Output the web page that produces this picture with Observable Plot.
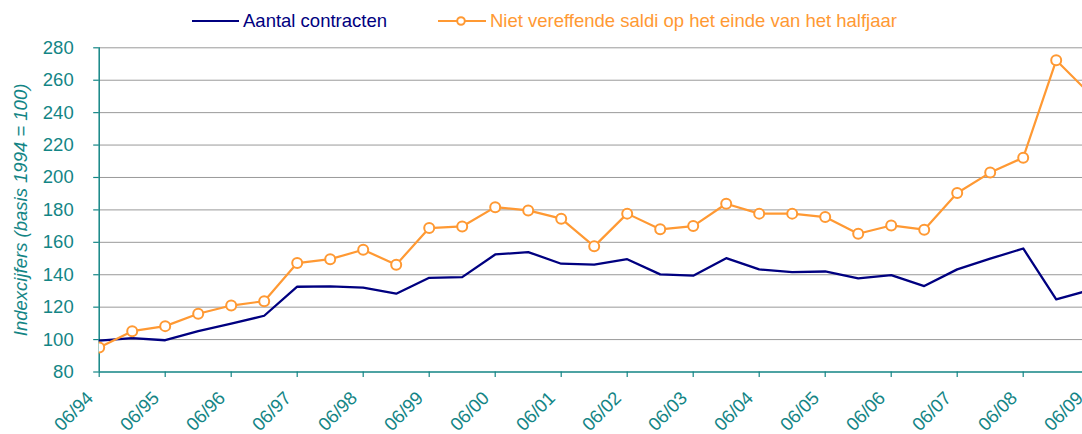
<!DOCTYPE html>
<html><head><meta charset="utf-8">
<script src="https://cdn.jsdelivr.net/npm/d3@7"></script>
<script src="https://cdn.jsdelivr.net/npm/@observablehq/plot@0.6"></script>
<style>
html,body{margin:0;padding:0;background:#fff;overflow:hidden;}
#wrap{width:1082px;height:434px;overflow:hidden;position:relative;font-family:"Liberation Sans",Arial,sans-serif;}
#legend{position:relative;height:40px;width:1082px;}
#legend .sw{position:absolute;top:13px;}
#legend .lab{position:absolute;top:12px;font-size:18.5px;line-height:18.5px;white-space:nowrap;}
#chart{width:1082px;height:394px;overflow:hidden;}
#chart svg{overflow:hidden;}
</style>
</head><body>
<div id="wrap">
  <div id="legend"></div>
  <div id="chart"></div>
</div>
<script>
// ---- data ----
const periods = ["06/94","12/94","06/95","12/95","06/96","12/96","06/97","12/97","06/98","12/98",
  "06/99","12/99","06/00","12/00","06/01","12/01","06/02","12/02","06/03","12/03",
  "06/04","12/04","06/05","12/05","06/06","12/06","06/07","12/07","06/08","12/08","06/09"];
const contracts = [99.4,100.9,99.6,105.2,109.8,114.7,132.6,132.8,132,128.3,
  138.1,138.5,152.5,154,146.8,146.2,149.6,140.2,139.4,150.2,
  143.3,141.6,142,137.7,139.8,133,143.3,149.9,156.2,124.8,130.4];
const saldi = [95.1,105.2,108.3,115.9,121,123.7,147.2,149.6,155.4,146.2,
  168.8,169.8,181.7,179.7,174.6,157.5,177.7,168,170,183.8,
  177.7,177.7,175.6,165.3,170.4,167.8,190.4,203,212.2,272.3,252];
const yTicks = [80,100,120,140,160,180,200,220,240,260,280];
const seriesNames = ["Aantal contracten","Niet vereffende saldi op het einde van het halfjaar"];
const yLabel = "Indexcijfers (basis 1994 = 100)";

// ---- style ----
const NAVY = "#000080", ORANGE = "#ff9933", TEAL = "#138585", GRID = "#9a9a9a";

const rows = periods.map((p, i) => ({i, p, contracts: contracts[i], saldi: saldi[i]}));
const xTickIdx = periods.map((p, i) => i).filter(i => periods[i].startsWith("06/"));

// legend
const legend = document.getElementById("legend");
legend.innerHTML =
  `<svg class="sw" style="left:192px" width="47" height="16"><line x1="0" x2="47" y1="8" y2="8" stroke="${NAVY}" stroke-width="2"/></svg>` +
  `<div class="lab" style="left:243px;color:${NAVY}">${seriesNames[0]}</div>` +
  `<svg class="sw" style="left:438px" width="48" height="16"><line x1="0" x2="48" y1="8" y2="8" stroke="${ORANGE}" stroke-width="2"/><circle cx="23" cy="8" r="3.8" fill="white" stroke="${ORANGE}" stroke-width="2"/></svg>` +
  `<div class="lab" style="left:490px;color:${ORANGE}">${seriesNames[1]}</div>`;

const plot = Plot.plot({
  width: 1082,
  height: 394,
  marginLeft: 98.7,
  marginRight: 0,
  marginTop: 7.3,
  marginBottom: 62.5,
  style: {fontFamily: "'Liberation Sans', Arial, sans-serif", fontSize: "18px", background: "white"},
  x: {type: "linear", domain: [0, 30], range: [98.7, 1088.7]},
  y: {domain: [80, 280]},
  marks: [
    Plot.gridY(yTicks.filter(v => v > 80), {stroke: GRID, strokeOpacity: 1, strokeWidth: 1}),
    Plot.axisY(yTicks, {tickSize: 5.5, tickPadding: 20, color: TEAL, fontSize: 18.5, label: null, strokeWidth: 1.2}),
    Plot.text([yLabel], {frameAnchor: "left", textAnchor: "middle", rotate: -90, dx: -78, fontStyle: "italic", fontSize: 18.5, fill: TEAL}),
    Plot.axisX(xTickIdx, {tickSize: 5.5, tickFormat: () => "", color: TEAL, label: null, strokeWidth: 1.2}),
    Plot.axisX(xTickIdx, {tickSize: 0, tickPadding: 20, tickRotate: -45, dx: -9, dy: 3, tickFormat: i => periods[i], color: TEAL, fontSize: 18.5, label: null}),
    Plot.ruleY([80], {stroke: TEAL, strokeWidth: 1.5}),
    Plot.ruleX([0], {stroke: TEAL, strokeWidth: 1.5}),
    Plot.line(rows, {x: "i", y: "contracts", stroke: NAVY, strokeWidth: 2.3, clip: true}),
    Plot.line(rows, {x: "i", y: "saldi", stroke: ORANGE, strokeWidth: 2.2, clip: true}),
    Plot.dot(rows, {x: "i", y: "saldi", r: 5, stroke: ORANGE, strokeWidth: 2, fill: "white", clip: true})
  ]
});
document.getElementById("chart").appendChild(plot);
</script>
</body></html>
